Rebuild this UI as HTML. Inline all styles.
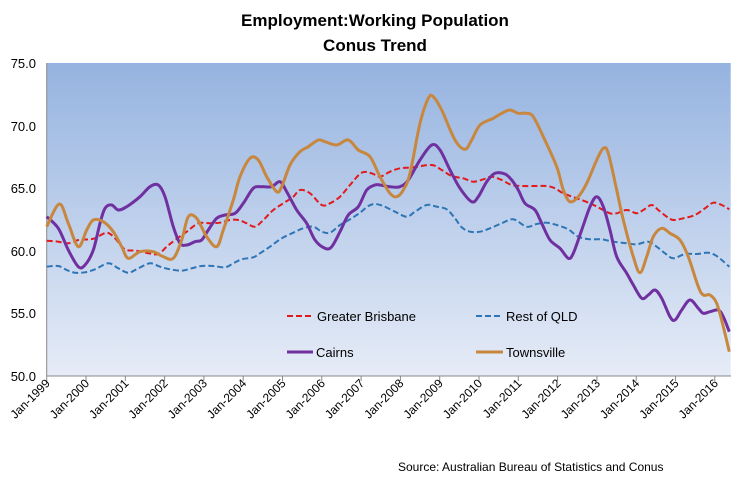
<!DOCTYPE html>
<html><head><meta charset="utf-8"><style>
body{margin:0;background:#fff;}
svg{display:block;font-family:"Liberation Sans",sans-serif;}
</style></head><body>
<svg id="s" width="750" height="489" viewBox="0 0 750 489">
<defs><linearGradient id="g" x1="0" y1="0" x2="0" y2="1">
<stop offset="0" stop-color="#95b3e0"/><stop offset="1" stop-color="#e6ecf7"/></linearGradient></defs>
<text x="375" y="26" text-anchor="middle" font-size="17" font-weight="bold">Employment:Working Population</text>
<text x="375" y="51" text-anchor="middle" font-size="17" font-weight="bold">Conus Trend</text>
<rect x="46.7" y="63" width="684" height="313" fill="url(#g)"/>
<g font-size="13" text-anchor="end" fill="#000">
<text x="36" y="68">75.0</text><text x="36" y="131">70.0</text><text x="36" y="193">65.0</text>
<text x="36" y="256">60.0</text><text x="36" y="318">55.0</text><text x="36" y="381">50.0</text>
</g>
<line x1="46.7" y1="63" x2="46.7" y2="376" stroke="#888"/>
<line x1="46.7" y1="376" x2="731" y2="376" stroke="#888"/>
<g id="ticks" stroke="#888"></g>
<g id="xl" font-size="12"></g>
<g id="lines" fill="none"></g>
<g font-size="13">
<line x1="287" y1="316" x2="311" y2="316" stroke="#e31a1c" stroke-width="2" stroke-dasharray="6,3"/>
<text x="317" y="321">Greater Brisbane</text>
<line x1="476" y1="316" x2="500" y2="316" stroke="#2e75b6" stroke-width="2" stroke-dasharray="6,3"/>
<text x="506" y="321">Rest of QLD</text>
<line x1="287" y1="352" x2="313" y2="352" stroke="#7030a0" stroke-width="3"/>
<text x="316" y="357">Cairns</text>
<line x1="476" y1="352" x2="503" y2="352" stroke="#c8873e" stroke-width="3"/>
<text x="506" y="357">Townsville</text>
</g>
<text x="398" y="471" font-size="12">Source: Australian Bureau of Statistics and Conus</text>
</svg>
<script>
var NS="http://www.w3.org/2000/svg";
function el(t,a,p){var e=document.createElementNS(NS,t);for(var k in a)e.setAttribute(k,a[k]);p.appendChild(e);return e;}
var tk=document.getElementById("ticks"),xl=document.getElementById("xl");
for(var i=0;i<18;i++){var x=46.7+i*39.3;el("line",{x1:x,y1:376,x2:x,y2:381},tk);
var t=el("text",{transform:"translate("+(x+4)+",384) rotate(-45)","text-anchor":"end"},xl);t.textContent="Jan-"+(1999+i);}
function P(s){return s.trim().split(/\)\s*,?\s*\(/).map(function(p){p=p.replace(/[()]/g,"").split(",");return [+p[0],+p[1]];});}
function path(pts){var d="M"+pts[0][0]+","+pts[0][1];for(var i=0;i<pts.length-1;i++){var p0=pts[i-1]||pts[i],p1=pts[i],p2=pts[i+1],p3=pts[i+2]||p2;
d+=" C"+(p1[0]+(p2[0]-p0[0])/6)+","+(p1[1]+(p2[1]-p0[1])/6)+" "+(p2[0]-(p3[0]-p1[0])/6)+","+(p2[1]-(p3[1]-p1[1])/6)+" "+p2[0]+","+p2[1];}return d;}
var L=document.getElementById("lines");
var rest="(46.7,266.7),(58.3,266),(66.7,270),(75,272.7),(85,272.3),(95,269.3),(108.3,263.3),(118.3,268.3),(128.3,272.7),(138.3,268.3),(150,263.3),(160,266.7),(170,269.3),(181.7,270.7),(191.7,268.3),(201.7,266),(213.3,266),(225,267.3),(233.3,263.3),(241.7,259.3),(253.3,257.3),(260,253.3),(270,246.7),(281.7,238.3),(293.3,232.7),(303.3,228.3),(313.3,226.7),(321.7,231.7),(330,232.7),(340,225),(350,219.3),(360,212.7),(368.3,206),(375,204),(383.3,206),(395,211.7),(406.7,216.7),(415,211.7),(426.7,205),(436.7,206.7),(446.7,209.3),(455,218.3),(461.7,227.3),(470,231.7),(480,231.7),(490,228.3),(501.7,223.3),(513.3,219.3),(526.7,226.7),(536.7,224),(546.7,222.7),(556.7,225),(568.3,229.3),(578.3,236.7),(590,239.3),(601.7,239.3),(613.3,241.7),(626.7,243.3),(636.7,244.3),(648.3,241.7),(656.7,246.7),(665,253.3),(673.3,258.3),(685,254),(696.7,254),(708.3,252.7),(715,255),(721.7,260),(729.3,266.7)";
var bris="(46.7,240.7),(58.3,241.7),(68.3,243.3),(78.3,240),(88.3,239.3),(95,238.3),(106.7,232.7),(115,238.3),(125,249.3),(136.7,250.7),(148.3,253.3),(158.3,254),(166.7,246.7),(175,240),(186.7,231.7),(198.3,223.3),(210,223.3),(220,222.7),(230,220),(238.3,220),(246.7,223.3),(255,226.7),(263.3,220),(273.3,210),(283.3,203.3),(293.3,196.7),(300,190),(310,193.3),(321.7,205),(330,203.3),(340,196.7),(350,185),(361.7,172.7),(371.7,173.3),(380,176.7),(390,171.7),(400,168.3),(413.3,167.3),(431.7,165),(441.7,170),(451.7,176),(463.3,178.3),(473.3,181.7),(483.3,179.3),(491.7,176.7),(501.7,180),(511.7,185),(523.3,186),(536.7,186),(546.7,186),(555,188.3),(563.3,193.3),(576.7,198.3),(590,203.3),(600,208.3),(610,213.3),(616.7,213.3),(626.7,210),(636.7,213.3),(643.3,210),(651.7,205),(658.3,210),(666.7,216.7),(673.3,220),(683.3,218.3),(695,215),(705,208.3),(713.3,202.7),(721.7,205),(729.3,209.3)";
var cai="(46.7,216.7),(58.3,228.3),(68.3,250),(78.3,266.7),(85,265),(93.3,250),(100,223.3),(105,208.3),(111.7,205),(118.3,210),(126.7,206.7),(140,196.7),(150,186.7),(158.3,185),(165,196.7),(173.3,226.7),(180,243.3),(186.7,245),(195,241.7),(201.7,240),(208.3,230),(216.7,218.3),(225,215),(235,213.3),(243.3,203.3),(253.3,188.3),(261.7,186.7),(271.7,186.7),(280,181.7),(286.7,191.7),(296.7,210),(306.7,223.3),(315,240),(325,248.3),(331.7,246.7),(340,231.7),(348.3,215),(358.3,206.7),(366.7,190),(375,185),(380,185),(390,186.7),(400,186.7),(408.3,180),(420,160),(431.7,145),(440,150),(450,170),(460,188.3),(471.7,201.7),(478.3,196.7),(486.7,181.7),(495,173.3),(505,174),(511.7,180),(518.3,190),(525,203.3),(535,210),(541.7,223.3),(550,240),(560,248.3),(568.3,258.3),(573.3,253.3),(581.7,230),(590,206.7),(596.7,196.7),(603.3,206.7),(610,230),(616.7,256.7),(626.7,273.3),(633.3,285),(641.7,298.3),(648.3,295),(655,290),(661.7,298.3),(670,316.7),(675,320),(681.7,310),(690,300),(698.3,308.3),(703.3,313.3),(710,311.7),(718.3,310),(723.3,316.7),(729.3,331.7)";
var tow="(46.7,226.7),(59.3,204),(68.3,223.3),(78.3,246.7),(86.7,230),(93.3,220),(103.3,221.7),(113.3,231.7),(121.7,246.7),(128.3,258.3),(140,251.7),(153.3,251.7),(163.3,256.7),(173.3,258.3),(181.7,240),(188.3,216.7),(196.7,218.3),(206.7,236.7),(216.7,246.7),(223.3,230),(233.3,200),(240,176.7),(250,158.3),(258.3,160),(266.7,176.7),(276.7,191.7),(281.7,186.7),(290,165),(300,151.7),(308.3,146.7),(318.3,140),(325,141.7),(336.7,145),(348.3,140),(358.3,150),(370,156.7),(380,176.7),(390,193.3),(396.7,196.7),(403.3,190),(410,173.3),(420,123.3),(428.3,98.3),(433.3,96.7),(441.7,110),(455,140),(465,149.3),(471.7,140),(480,125),(493.3,118.3),(501.7,113.3),(510,110),(518.3,113.3),(526.7,113.3),(533.3,116.7),(543.3,136.7),(556.7,166.7),(563.3,190),(570,201.7),(578.3,196.7),(586.7,183.3),(596.7,160),(603.3,148.3),(608.3,153.3),(616.7,190),(623.3,220),(633.3,256.7),(640,272.7),(646.7,256.7),(653.3,236.7),(661.7,228.3),(670,233.3),(680,240),(688.3,256.7),(698.3,286.7),(703.3,295),(710,295),(716.7,303.3),(723.3,326.7),(729.3,351.7)";
el("path",{d:path(P(rest)),stroke:"#2e75b6","stroke-width":2,"stroke-dasharray":"6,3"},L);
el("path",{d:path(P(bris)),stroke:"#e31a1c","stroke-width":2,"stroke-dasharray":"6,3"},L);
el("path",{d:path(P(cai)),stroke:"#7030a0","stroke-width":3},L);
el("path",{d:path(P(tow)),stroke:"#c8873e","stroke-width":3},L);
</script>
</body></html>
